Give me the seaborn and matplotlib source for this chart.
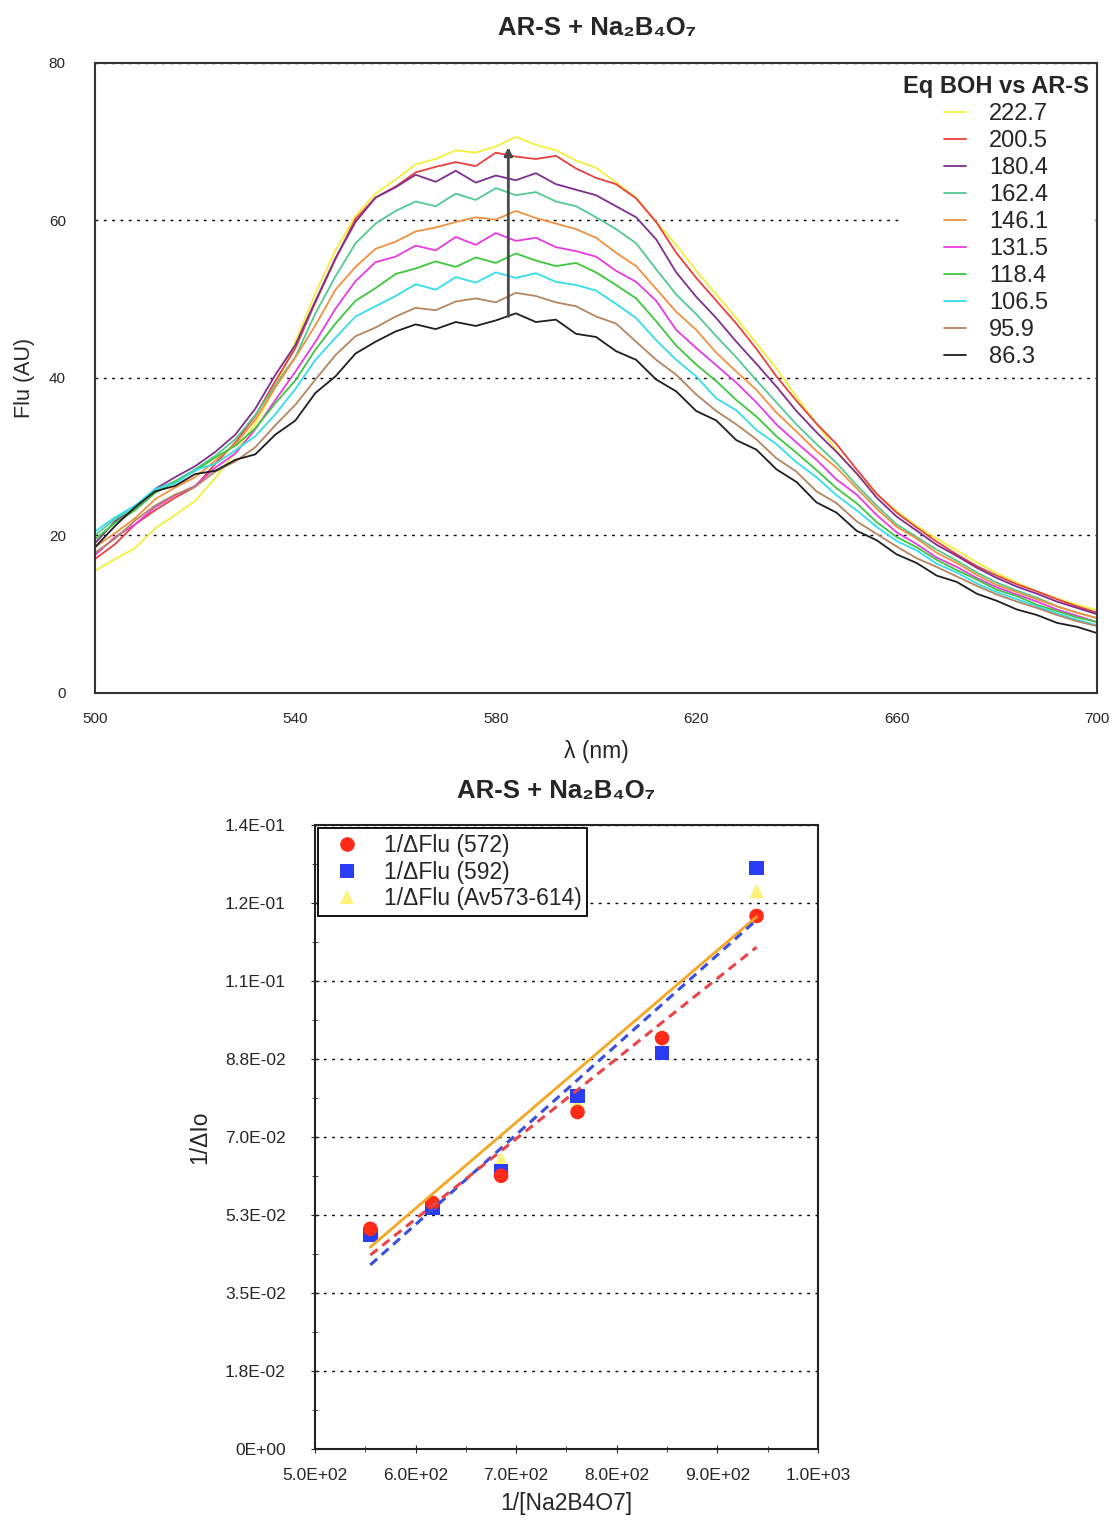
import numpy as np
import pandas as pd
import matplotlib
matplotlib.use('Agg')
import matplotlib.pyplot as plt
import seaborn as sns
from matplotlib.ticker import MultipleLocator

# ---------------- top panel : emission spectra ----------------
wavelength = list(range(500, 701, 4))

eq_labels = ['222.7', '200.5', '180.4', '162.4', '146.1',
             '131.5', '118.4', '106.5', '95.9', '86.3']
line_colors = ['#f2f03a', '#e8403f', '#7d2f8f', '#52c993', '#ef9140',
               '#e63be3', '#3fc63f', '#35dcec', '#b58560', '#1f1f1f']

flu_222_7 = [15.5, 17.0, 18.4, 20.9, 22.6, 24.4, 27.3, 30.6, 34.2, 38.8, 44.6, 50.8, 56.2, 60.6, 63.4,
             65.2, 67.1, 67.8, 68.9, 68.6, 69.4, 70.6, 69.6, 68.9, 67.6, 66.7, 64.8, 62.9, 59.8, 56.9,
             53.6, 50.6, 47.6, 44.4, 41.2, 37.6, 34.2, 30.8, 27.8, 25.2, 23.1, 21.2, 19.6, 18.1, 16.6,
             15.2, 14.0, 12.9, 12.0, 11.2, 10.5]
flu_200_5 = [17.0, 18.9, 21.4, 23.2, 24.8, 26.2, 29.1, 31.8, 35.2, 39.6, 43.8, 49.6, 55.1, 60.2, 62.9,
             64.3, 66.1, 66.8, 67.4, 66.9, 68.6, 68.1, 67.8, 68.2, 66.6, 65.4, 64.6, 62.8, 59.8, 55.9,
             52.7, 49.8, 46.9, 43.7, 40.2, 37.1, 34.2, 31.6, 28.4, 25.3, 22.9, 21.0, 19.2, 17.6, 16.1,
             14.9, 13.8, 12.9, 11.9, 11.0, 10.2]
flu_180_4 = [19.0, 21.8, 23.4, 25.9, 27.4, 28.8, 30.6, 32.8, 36.1, 40.4, 44.2, 49.8, 55.2, 59.8, 62.9,
             64.2, 65.8, 64.9, 66.3, 64.8, 65.7, 65.1, 66.0, 64.6, 63.9, 63.2, 61.8, 60.4, 57.6, 53.4,
             50.3, 47.6, 44.6, 41.8, 38.9, 35.8, 33.1, 30.6, 27.9, 24.8, 22.4, 20.6, 18.8, 17.4, 15.9,
             14.6, 13.5, 12.6, 11.6, 10.8, 10.0]
flu_162_4 = [20.0, 22.1, 23.5, 25.8, 26.9, 28.4, 30.1, 32.2, 35.3, 39.1, 42.7, 48.2, 52.9, 57.1, 59.6,
             61.2, 62.4, 61.8, 63.4, 62.6, 64.1, 63.2, 63.6, 62.4, 61.8, 60.4, 58.9, 57.1, 53.8, 50.6,
             48.1, 45.3, 42.6, 39.7, 36.9, 34.1, 31.6, 29.2, 26.4, 23.8, 21.4, 19.8, 18.2, 16.8, 15.3,
             14.0, 13.0, 12.1, 11.0, 10.2, 9.5]
flu_146_1 = [18.5, 20.3, 22.2, 24.6, 26.1, 27.4, 29.5, 31.6, 34.7, 38.8, 42.6, 46.7, 51.2, 54.1, 56.4,
             57.3, 58.6, 59.1, 59.8, 60.4, 60.1, 61.2, 60.3, 59.6, 58.9, 57.8, 55.9, 54.2, 51.3, 48.4,
             46.1, 43.2, 40.8, 38.5, 35.6, 33.2, 30.7, 28.6, 26.0, 23.4, 21.1, 19.6, 17.8, 16.5, 15.0,
             13.7, 12.8, 11.9, 11.0, 10.2, 9.5]
flu_131_5 = [17.5, 19.8, 21.4, 23.6, 25.1, 26.3, 28.6, 30.4, 33.5, 37.2, 40.8, 44.6, 48.8, 52.3, 54.7,
             55.4, 56.8, 56.2, 57.9, 56.9, 58.4, 57.4, 57.8, 56.6, 56.1, 55.4, 53.6, 52.2, 49.8, 46.1,
             43.8, 41.6, 39.4, 36.9, 34.1, 31.8, 29.6, 27.1, 25.2, 22.6, 20.4, 18.9, 17.2, 16.0, 14.6,
             13.4, 12.5, 11.6, 10.6, 9.8, 9.0]
flu_118_4 = [19.5, 21.6, 23.2, 25.4, 26.8, 28.2, 29.9, 31.4, 33.6, 36.8, 39.7, 43.6, 46.9, 49.8, 51.4,
             53.2, 53.9, 54.8, 54.1, 55.3, 54.6, 55.8, 54.9, 54.2, 54.6, 53.4, 51.8, 50.1, 47.2, 44.1,
             41.7, 39.6, 37.2, 35.1, 32.6, 30.5, 28.3, 26.0, 24.1, 21.7, 19.8, 18.5, 16.9, 15.6, 14.4,
             13.1, 12.3, 11.2, 10.4, 9.6, 9.0]
flu_106_5 = [20.5, 22.3, 23.8, 25.9, 26.6, 28.3, 29.1, 30.8, 32.6, 35.4, 38.6, 42.3, 45.1, 47.8, 49.1,
             50.4, 51.9, 51.2, 52.8, 52.1, 53.4, 52.7, 53.3, 52.2, 51.8, 51.1, 49.4, 47.6, 44.8, 42.3,
             40.2, 37.4, 35.9, 33.4, 31.6, 29.3, 27.4, 25.1, 23.2, 21.1, 19.3, 18.1, 16.4, 15.3, 13.9,
             12.8, 11.9, 11.0, 10.1, 9.3, 8.6]
flu_95_9 = [17.8, 19.6, 21.9, 23.8, 25.2, 26.2, 28.1, 29.4, 31.2, 34.0, 36.6, 39.8, 42.9, 45.3, 46.4,
            47.8, 48.9, 48.6, 49.7, 50.1, 49.6, 50.8, 50.4, 49.6, 49.1, 47.8, 46.9, 44.6, 42.3, 40.4,
            37.9, 35.8, 34.1, 32.2, 29.8, 28.1, 25.6, 24.1, 21.8, 20.2, 18.6, 17.1, 16.0, 14.8, 13.6,
            12.5, 11.6, 10.8, 9.9, 9.1, 8.5]
flu_86_3 = [18.5, 21.2, 23.6, 25.6, 26.3, 27.8, 28.2, 29.6, 30.3, 32.8, 34.6, 38.1, 40.2, 43.1, 44.6,
            45.9, 46.8, 46.2, 47.1, 46.6, 47.3, 48.2, 47.1, 47.4, 45.6, 45.2, 43.4, 42.3, 39.8, 38.3,
            35.8, 34.6, 32.1, 30.9, 28.4, 26.8, 24.2, 22.9, 20.6, 19.4, 17.6, 16.5, 14.9, 14.1, 12.6,
            11.7, 10.6, 9.9, 8.9, 8.4, 7.6]

spectra = [flu_222_7, flu_200_5, flu_180_4, flu_162_4, flu_146_1,
           flu_131_5, flu_118_4, flu_106_5, flu_95_9, flu_86_3]

# arrow showing the increase at the maximum
arrow_wl = 582.5
arrow_from = 47.8
arrow_to = 69.3

# ---------------- bottom panel : double reciprocal ----------------
inv_conc = [555, 617, 685, 761, 845, 939]
inv_dflu_572 = [0.0494, 0.0552, 0.0613, 0.0756, 0.0922, 0.1196]
inv_dflu_592 = [0.0480, 0.0541, 0.0624, 0.0792, 0.0888, 0.1304]
inv_dflu_av = [0.0490, 0.0550, 0.0650, 0.0780, 0.0900, 0.1252]

fit_x = [555, 939]
fit_572 = [0.0435, 0.1126]
fit_592 = [0.0413, 0.1187]
fit_av = [0.0453, 0.1194]

ser_572 = '1/ΔFlu (572)'
ser_592 = '1/ΔFlu (592)'
ser_av = '1/ΔFlu (Av573-614)'
ytick_labels = ['0E+00', '1.8E-02', '3.5E-02', '5.3E-02', '7.0E-02',
                '8.8E-02', '1.1E-01', '1.2E-01', '1.4E-01']

sns.set_style('white')
plt.rcParams['font.family'] = ['Liberation Sans', 'DejaVu Sans']

fig = plt.figure(figsize=(11.15, 15.23), dpi=100)
ax1 = fig.add_axes([0.0852, 0.545, 0.8987, 0.4137])
ax2 = fig.add_axes([0.2825, 0.0486, 0.4511, 0.4097])

# ---- top
rows = []
for lab, vals in zip(eq_labels, spectra):
    for w, v in zip(wavelength, vals):
        rows.append((w, v, lab))
df = pd.DataFrame(rows, columns=['wl', 'flu', 'eq'])

sns.lineplot(data=df, x='wl', y='flu', hue='eq', hue_order=eq_labels,
             palette=dict(zip(eq_labels, line_colors)), estimator=None,
             sort=False, lw=1.3, ax=ax1)

ax1.annotate('', xy=(arrow_wl, arrow_to), xytext=(arrow_wl, arrow_from),
             arrowprops=dict(arrowstyle='-|>', color='#4a4a4a', lw=2,
                             mutation_scale=12, shrinkA=0, shrinkB=0))

ax1.set_xlim(500, 700)
ax1.set_ylim(0, 80)
ax1.set_xticks([500, 540, 580, 620, 660, 700])
ax1.set_yticks([0, 20, 40, 60, 80])
ax1.set_axisbelow(True)
ax1.yaxis.grid(True, linestyle=(0, (2, 4)), color='black', lw=1)
ax1.tick_params(axis='x', direction='inout', length=6, pad=11, labelsize=11)
ax1.tick_params(axis='y', direction='inout', length=6, pad=18, labelsize=11)
for s in ax1.spines.values():
    s.set_linewidth(1.5)
    s.set_color('#333333')
ax1.set_xlabel('λ (nm)', fontsize=16.5, labelpad=10)
ax1.set_ylabel('Flu (AU)', fontsize=15.5, labelpad=10)

handles, labels = ax1.get_legend_handles_labels()
ax1.legend(handles, labels, title='Eq BOH vs AR-S', loc='upper right',
           bbox_to_anchor=(0.995, 0.985), fontsize=17,
           title_fontproperties={'weight': 'bold', 'size': 17}, frameon=True,
           facecolor='white', edgecolor='none', framealpha=1, handlelength=0.9,
           handletextpad=1.0, labelspacing=0.21, borderaxespad=0.0, borderpad=0.12)

fig.text(597 / 1115, 1 - 28 / 1523, 'AR-S + Na₂B₄O₇', ha='center', va='center',
         fontsize=18.5, fontweight='bold')

# ---- bottom
pts = pd.DataFrame({
    'x': inv_conc * 3,
    'y': inv_dflu_av + inv_dflu_592 + inv_dflu_572,
    'series': [ser_av] * 6 + [ser_592] * 6 + [ser_572] * 6,
})
sns.scatterplot(data=pts, x='x', y='y', hue='series', style='series',
                hue_order=[ser_572, ser_592, ser_av], style_order=[ser_572, ser_592, ser_av],
                palette={ser_572: '#ff2a17', ser_592: '#2b3cf5', ser_av: '#fff27a'},
                markers={ser_572: 'o', ser_592: 's', ser_av: '^'},
                s=110, linewidth=0, ax=ax2)

ax2.plot(fit_x, fit_av, color='#f5a623', lw=2, zorder=1.5)
ax2.plot(fit_x, fit_592, color='#3a4fe0', lw=2.2, ls=(0, (3, 2)), zorder=1.6)
ax2.plot(fit_x, fit_572, color='#e8454a', lw=2.2, ls=(0, (3, 2)), zorder=1.7)

ax2.set_xlim(500, 1000)
ax2.set_ylim(0, 0.14)
ax2.xaxis.set_major_locator(MultipleLocator(100))
ax2.xaxis.set_minor_locator(MultipleLocator(50))
ax2.yaxis.set_minor_locator(MultipleLocator(0.00875))
ax2.set_yticks([i * 0.0175 for i in range(len(ytick_labels))])
ax2.set_yticklabels(ytick_labels)
ax2.xaxis.set_major_formatter(lambda v, p: f'{v:.1E}')
ax2.set_axisbelow(True)
ax2.yaxis.grid(True, linestyle=(0, (2, 4)), color='black', lw=1)
ax2.tick_params(which='major', direction='inout', length=6, labelsize=12.5)
ax2.tick_params(which='minor', direction='inout', length=4)
ax2.tick_params(axis='y', pad=18)
ax2.tick_params(axis='x', pad=11)
ax2.tick_params(which='both', bottom=True, left=True)
for s in ax2.spines.values():
    s.set_linewidth(1.5)
    s.set_color('#222222')
ax2.set_xlabel('1/[Na2B4O7]', fontsize=16.5, labelpad=6)
ax2.set_ylabel('1/ΔIo', fontsize=16.5, labelpad=10)

ax2.legend(loc='upper left', fontsize=16.5, frameon=True, fancybox=False,
           edgecolor='black', framealpha=1, borderaxespad=0.15,
           handletextpad=0.6, labelspacing=0.15, borderpad=0.25)
ax2.get_legend().get_frame().set_linewidth(1.3)

fig.text(556 / 1115, 1 - 791 / 1523, 'AR-S + Na₂B₄O₇', ha='center', va='center',
         fontsize=18.5, fontweight='bold')

fig.savefig('out.png', dpi=100)
